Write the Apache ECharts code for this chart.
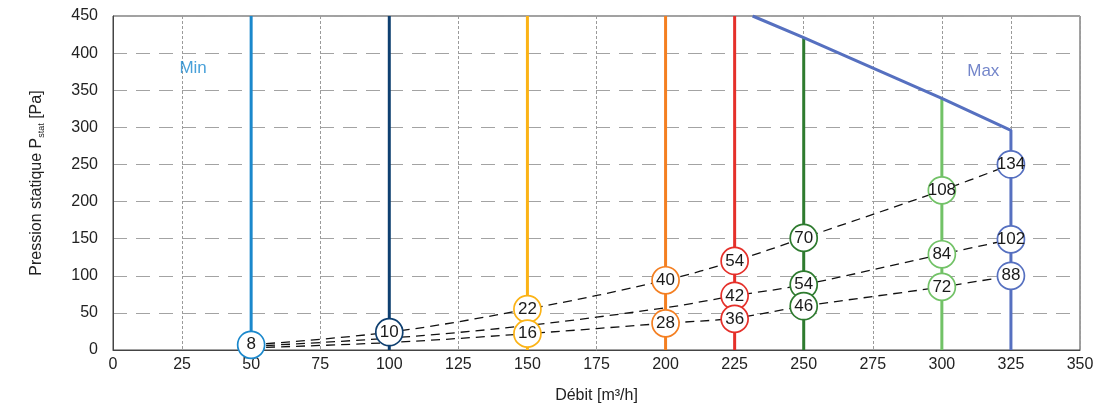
<!DOCTYPE html>
<html>
<head>
<meta charset="utf-8">
<script src="https://cdn.jsdelivr.net/npm/echarts@6/dist/echarts.min.js"></script>
<style>
html,body{margin:0;padding:0;background:#fff;}
#c{width:1109px;height:409px;}
</style>
</head>
<body>
<div id="c"></div>
<script>
// ---- data ----
const xTicks = [0, 25, 50, 75, 100, 125, 150, 175, 200, 225, 250, 275, 300, 325, 350];
const yTicks = [0, 50, 100, 150, 200, 250, 300, 350, 400, 450];

// vertical operating lines (flow, top pressure)
const flowLines = [50, 100, 150, 200, 225, 250, 300];
const lineTops  = [450, 450, 450, 450, 450, 421, 339];

// Max curve
const maxFlow     = [231.5, 250, 300, 325, 325];
const maxPressure = [450, 421, 339, 296, 0];

// circle markers
const pointFlow     = [50, 100, 150, 150, 200, 200, 225, 225, 225, 250, 250, 250, 300, 300, 300, 325, 325, 325];
const pointPressure = [7, 24, 55, 22, 94, 36, 120, 73, 42, 151, 88, 59, 215, 129, 85, 250, 149, 100];
const pointLabels   = ['8','10','22','16','40','28','54','42','36','70','54','46','108','84','72','134','102','88'];

// dashed system curves
const curveFlow = [50, 100, 150, 200, 225, 250, 300, 325];
const curveHigh = [7, 24, 55, 94, 120, 151, 215, 250];
const curveMid  = [5, 16, 33, 57, 73, 88, 129, 149];
const curveLow  = [3, 10, 22, 36, 43, 59, 85, 100];

// text labels
const textLabels = ['Min', 'Max'];
const textFlow   = [29, 315];
const textPress  = [379, 375];

// ---- styles ----
const flowColors = {50:'#1b88cc', 100:'#0e3f70', 150:'#fbb316', 200:'#f47f21', 225:'#e5302a', 250:'#2e7b2f', 300:'#72c267', 325:'#5670c0'};
const textColors = ['#1a88cf', '#5168bd'];
const FONT = '"Liberation Sans", Arial, sans-serif';

const series = [];

function curveSeries(vals) {
  return {
    type: 'line', smooth: 0.35, symbol: 'none', z: 2,
    data: curveFlow.map((x, i) => [x, vals[i]]),
    lineStyle: { color: '#111', width: 1.3, type: [9, 6] },
    silent: true
  };
}
series.push(curveSeries(curveHigh), curveSeries(curveMid), curveSeries(curveLow));

flowLines.forEach((x, i) => {
  series.push({
    type: 'line', symbol: 'none', z: 3,
    data: [[x, 0], [x, lineTops[i]]],
    lineStyle: { color: flowColors[x], width: 3 }
  });
});

series.push({
  type: 'line', symbol: 'none', z: 3,
  data: maxFlow.map((x, i) => [x, maxPressure[i]]),
  lineStyle: { color: flowColors[325], width: 3 }
});

series.push({
  type: 'scatter', z: 5, symbol: 'circle', symbolSize: 27,
  itemStyle: { opacity: 1 },
  data: pointFlow.map((x, i) => ({
    value: [x, pointPressure[i]],
    label: { formatter: pointLabels[i] },
    itemStyle: { color: '#fff', borderColor: flowColors[x], borderWidth: 1.7, opacity: 1 }
  })),
  label: {
    show: true, position: 'inside', color: '#1a1a1a', fontSize: 17,
    fontFamily: '"Liberation Sans Narrow", "Liberation Sans", sans-serif'
  }
});

series.push({
  type: 'scatter', z: 6, symbolSize: 0,
  data: textFlow.map((x, i) => ({
    value: [x, textPress[i]],
    label: { formatter: textLabels[i], color: textColors[i] }
  })),
  label: { show: true, position: 'inside', fontSize: 17, fontFamily: FONT }
});

const chart = echarts.init(document.getElementById('c'), null, { renderer: 'canvas' });
chart.setOption({
  animation: false,
  backgroundColor: '#fff',
  grid: { left: 113, right: 29, top: 16, bottom: 57, show: true, borderColor: '#444', borderWidth: 1, backgroundColor: 'transparent' },
  xAxis: {
    type: 'value', min: 0, max: 350, interval: 25,
    name: 'Débit [m³/h]', nameLocation: 'middle', nameGap: 38,
    nameTextStyle: { fontSize: 16, color: '#222', fontFamily: FONT },
    axisLine: { show: true, lineStyle: { color: '#444', width: 1 } },
    axisTick: { show: false },
    axisLabel: { fontSize: 16, color: '#222', margin: 7, fontFamily: FONT,
      formatter: v => (xTicks.includes(v) ? String(v) : '') },
    splitLine: { show: true, lineStyle: { color: '#9a9a9a', width: 1, type: [3, 2] } }
  },
  yAxis: {
    type: 'value', min: 0, max: 450, interval: 50,
    name: 'Pression statique P{sub|stat} [Pa]', nameLocation: 'middle', nameGap: 67,
    nameTextStyle: { fontSize: 16, color: '#222', fontFamily: FONT, lineHeight: 18,
      rich: { sub: { fontSize: 9, color: '#222', fontFamily: FONT, lineHeight: 8, verticalAlign: 'bottom' } } },
    axisLine: { show: true, lineStyle: { color: '#444', width: 1 } },
    axisTick: { show: false },
    axisLabel: { fontSize: 16, color: '#222', margin: 15, fontFamily: FONT,
      formatter: v => (yTicks.includes(v) ? String(v) : '') },
    splitLine: { show: true, lineStyle: { color: '#a3a3a3', width: 1.2, type: [14, 9] } }
  },
  series: series
});
</script>
</body>
</html>
